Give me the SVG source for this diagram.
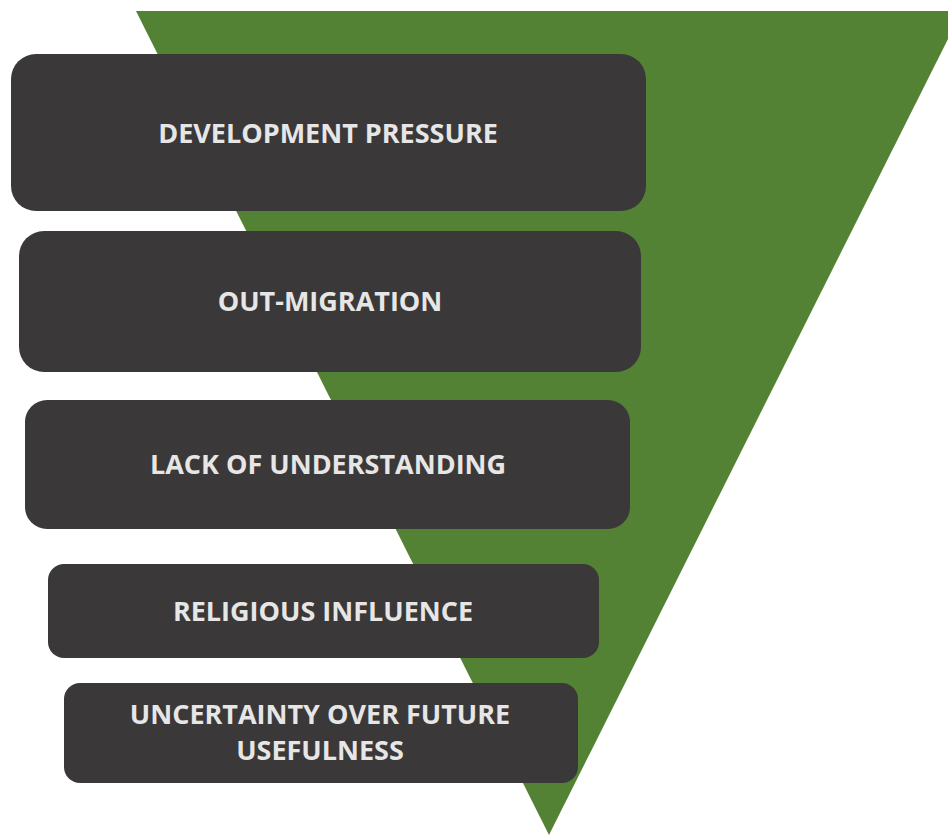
<svg xmlns="http://www.w3.org/2000/svg" width="948" height="835" viewBox="0 0 948 835">
  <style>
    .box { fill: #3a3838; }
    .label { font-family: "Open Sans", "Liberation Sans", sans-serif; font-weight: 700; font-size: 27px; fill: #e7e6e6; text-anchor: middle; }
  </style>
  <rect width="948" height="835" fill="#ffffff"/>
  <!-- inverted funnel triangle, clipped at the right edge -->
  <polygon id="funnel" points="136,11 962,11 549,835" fill="#548235"/>
  <g id="node-development">
    <rect class="box" x="11" y="54" width="635" height="157" rx="25"/>
    <text class="label" x="328" y="143">DEVELOPMENT PRESSURE</text>
  </g>
  <g id="node-outmigration">
    <rect class="box" x="19" y="231" width="622" height="141" rx="25"/>
    <text class="label" x="330" y="311">OUT-MIGRATION</text>
  </g>
  <g id="node-understanding">
    <rect class="box" x="25" y="400" width="605" height="129" rx="22"/>
    <text class="label" x="328" y="474">LACK OF UNDERSTANDING</text>
  </g>
  <g id="node-religious">
    <rect class="box" x="48" y="564" width="551" height="94" rx="16"/>
    <text class="label" x="323" y="621">RELIGIOUS INFLUENCE</text>
  </g>
  <g id="node-uncertainty">
    <rect class="box" x="64" y="683" width="514" height="100" rx="16"/>
    <text class="label" x="320" y="724">UNCERTAINTY OVER FUTURE</text>
    <text class="label" x="320" y="760">USEFULNESS</text>
  </g>
  <g id="connectors"/>
</svg>
